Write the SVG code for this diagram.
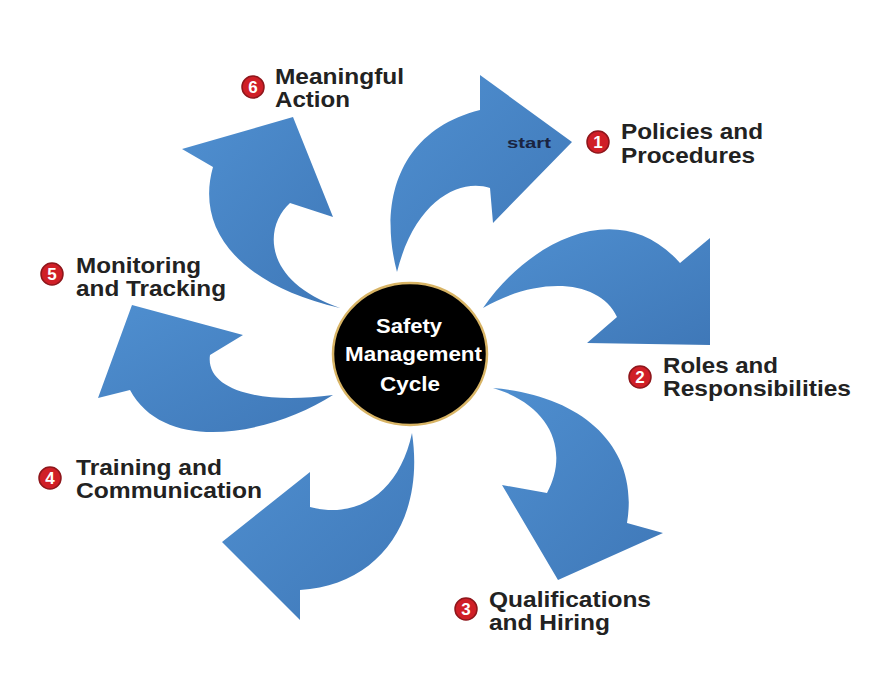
<svg xmlns="http://www.w3.org/2000/svg" width="886" height="696" viewBox="0 0 886 696">
<defs>
<linearGradient id="blue" x1="0" y1="0" x2="1" y2="1">
<stop offset="0" stop-color="#4f8fd0"/>
<stop offset="1" stop-color="#3f78b8"/>
</linearGradient>
<style>
.arrow{fill:url(#blue);stroke:none}
.lbl{font-family:"Liberation Sans",Arial,sans-serif;font-weight:bold;font-size:22px;fill:#222}
.badge{fill:#d01f27;stroke:#8e161b;stroke-width:1.5}
.num{font-family:"Liberation Sans",Arial,sans-serif;font-weight:bold;font-size:17px;fill:#fff;text-anchor:middle}
.ctr{font-family:"Liberation Sans",Arial,sans-serif;font-weight:bold;font-size:21px;fill:#fff}
</style>
</defs>
<rect width="886" height="696" fill="#fff"/>
<g id="connectors">
<path id="arrow1" class="arrow" d="M397,272 C378,200 400,130 480,110 L480,75 L572,142 L493,223 L490,188 C460,178 415,200 397,272 Z"/>
<path id="arrow2" class="arrow" d="M483,308 C530,240 620,195 680,263 L710,238 L710,345 L587,343 L617,317 C600,280 540,275 483,308 Z"/>
<path id="arrow3" class="arrow" d="M493,388 C580,395 640,445 627,523 L663,533 L558,580 L502,485 L547,493 C570,450 550,405 493,388 Z"/>
<path id="arrow4" class="arrow" d="M412,433 C425,520 380,585 300,590 L300,620 L222,542 L310,472 L310,507 C360,520 400,490 412,433 Z"/>
<path id="arrow5" class="arrow" d="M333,395 C270,435 165,455 130,390 L98,398 L132,305 L243,335 L210,355 C205,390 260,405 333,395 Z"/>
<path id="arrow6" class="arrow" d="M340,308 C240,285 195,230 213,167 L182,149 L293,117 L333,217 L290,203 C265,225 260,280 340,308 Z"/>
<text x="507" y="148" font-family="'Liberation Sans',Arial,sans-serif" font-weight="bold" font-size="15" fill="#1a2440" textLength="44" lengthAdjust="spacingAndGlyphs">start</text>
</g>
<g id="center">
<ellipse cx="410" cy="354" rx="77" ry="71" fill="#000" stroke="#d8b465" stroke-width="2.5"/>
<text class="ctr" x="376" y="333" textLength="66" lengthAdjust="spacingAndGlyphs">Safety</text>
<text class="ctr" x="345" y="361" textLength="137" lengthAdjust="spacingAndGlyphs">Management</text>
<text class="ctr" x="380" y="391" textLength="60" lengthAdjust="spacingAndGlyphs">Cycle</text>
</g>
<g id="step1">
<circle class="badge" cx="598" cy="142" r="11"/><text class="num" x="598" y="148">1</text>
<text class="lbl" x="621" y="139" textLength="142" lengthAdjust="spacingAndGlyphs">Policies and</text>
<text class="lbl" x="621" y="163" textLength="134" lengthAdjust="spacingAndGlyphs">Procedures</text>
</g>
<g id="step2">
<circle class="badge" cx="640" cy="377" r="11"/><text class="num" x="640" y="383">2</text>
<text class="lbl" x="663" y="373" textLength="115" lengthAdjust="spacingAndGlyphs">Roles and</text>
<text class="lbl" x="663" y="396" textLength="188" lengthAdjust="spacingAndGlyphs">Responsibilities</text>
</g>
<g id="step3">
<circle class="badge" cx="466" cy="609" r="11"/><text class="num" x="466" y="615">3</text>
<text class="lbl" x="489" y="607" textLength="162" lengthAdjust="spacingAndGlyphs">Qualifications</text>
<text class="lbl" x="489" y="630" textLength="121" lengthAdjust="spacingAndGlyphs">and Hiring</text>
</g>
<g id="step4">
<circle class="badge" cx="50" cy="478" r="11"/><text class="num" x="50" y="484">4</text>
<text class="lbl" x="76" y="475" textLength="146" lengthAdjust="spacingAndGlyphs">Training and</text>
<text class="lbl" x="76" y="498" textLength="186" lengthAdjust="spacingAndGlyphs">Communication</text>
</g>
<g id="step5">
<circle class="badge" cx="52" cy="274" r="11"/><text class="num" x="52" y="280">5</text>
<text class="lbl" x="76" y="273" textLength="125" lengthAdjust="spacingAndGlyphs">Monitoring</text>
<text class="lbl" x="76" y="296" textLength="150" lengthAdjust="spacingAndGlyphs">and Tracking</text>
</g>
<g id="step6">
<circle class="badge" cx="253" cy="87" r="11"/><text class="num" x="253" y="93">6</text>
<text class="lbl" x="275" y="84" textLength="129" lengthAdjust="spacingAndGlyphs">Meaningful</text>
<text class="lbl" x="275" y="107" textLength="75" lengthAdjust="spacingAndGlyphs">Action</text>
</g>
</svg>
